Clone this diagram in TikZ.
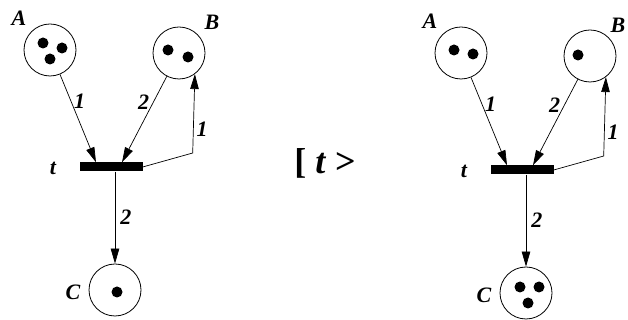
\documentclass[tikz,border=0pt]{standalone}
\usepackage{fontspec}
\setmainfont{Liberation Serif}
\usetikzlibrary{arrows.meta,positioning}

\begin{document}
\begin{tikzpicture}[
    x=1pt, y=1pt,
    place/.style={circle, draw, line width=0.8pt, minimum size=52pt, inner sep=0pt},
    trans/.style={rectangle, fill=black, minimum width=63pt, minimum height=9pt, inner sep=0pt},
    lbl/.style={font=\fontsize{22}{26}\selectfont\bfseries\itshape, inner sep=1pt},
    arc/.style={-{Triangle[length=15pt,width=8.5pt]}, line width=0.7pt},
    token/.style={radius=5.5}
]
    \useasboundingbox (0,0) rectangle (628,320);

    % before firing
    \node[place] (A1) at (50,270) {};
    \node[place] (B1) at (179,267) {};
    \node[trans] (t1) at (111,153) {};
    \node[place] (C1) at (115,30) {};
    \node[lbl] (nA1) at (19,302) {A};
    \node[lbl] (nB1) at (212,298) {B};
    \node[lbl] (nt1) at (53,152) {t};
    \node[lbl] (nC1) at (73,28) {C};

    \fill[token] ([shift={(-7,7)}]A1) circle;
    \fill[token] ([shift={(12,2)}]A1) circle;
    \fill[token] ([shift={(0,-9)}]A1) circle;
    \fill[token] ([shift={(-11,3)}]B1) circle;
    \fill[token] ([shift={(9,-4)}]B1) circle;
    \fill[token] ([shift={(2,-2)}]C1) circle;

    \draw[arc] (A1) -- ([xshift=-15]t1.north) node[lbl, pos=0.3, right=2pt] (w11) {1};
    \draw[arc] (B1) -- ([xshift=11]t1.north) node[lbl, pos=0.3, left=3pt] (w12) {2};
    \coordinate (k1) at ([shift={(50,14)}]t1.east);
    \draw[arc] (t1.east) -- (k1) -- (B1.-53) node[lbl, pos=0.3, right=2pt] (w13) {1};
    \draw[arc] (t1.south -| C1) -- (C1) node[lbl, pos=0.5, right=4pt] (w14) {2};

    % firing
    \node[font=\fontsize{36}{40}\selectfont\bfseries] (fire) at (325,157) {[ \textit{t} >};

    % after firing
    \begin{scope}[shift={(411,-3)}]
    \node[place] (A2) at (50,270) {};
    \node[place] (B2) at (179,267) {};
    \node[trans] (t2) at (111,153) {};
    \node[place] (C2) at (115,30) {};
    \node[lbl] (nA2) at (19,302) {A};
    \node[lbl] (nB2) at (207,298) {B};
    \node[lbl] (nt2) at (53,152) {t};
    \node[lbl] (nC2) at (73,28) {C};

    \fill[token] ([shift={(-7,3)}]A2) circle;
    \fill[token] ([shift={(12,-1)}]A2) circle;
    \fill[token] ([shift={(-12,1)}]B2) circle;
    \fill[token] ([shift={(-6,6)}]C2) circle;
    \fill[token] ([shift={(13,6)}]C2) circle;
    \fill[token] ([shift={(2,-10)}]C2) circle;

    \draw[arc] (A2) -- ([xshift=-15]t2.north) node[lbl, pos=0.3, right=2pt] (w21) {1};
    \draw[arc] (B2) -- ([xshift=11]t2.north) node[lbl, pos=0.3, left=3pt] (w22) {2};
    \coordinate (k2) at ([shift={(50,14)}]t2.east);
    \draw[arc] (t2.east) -- (k2) -- (B2.-53) node[lbl, pos=0.3, right=2pt] (w23) {1};
    \draw[arc] (t2.south -| C2) -- (C2) node[lbl, pos=0.5, right=4pt] (w24) {2};
    \end{scope}
\end{tikzpicture}
\end{document}
